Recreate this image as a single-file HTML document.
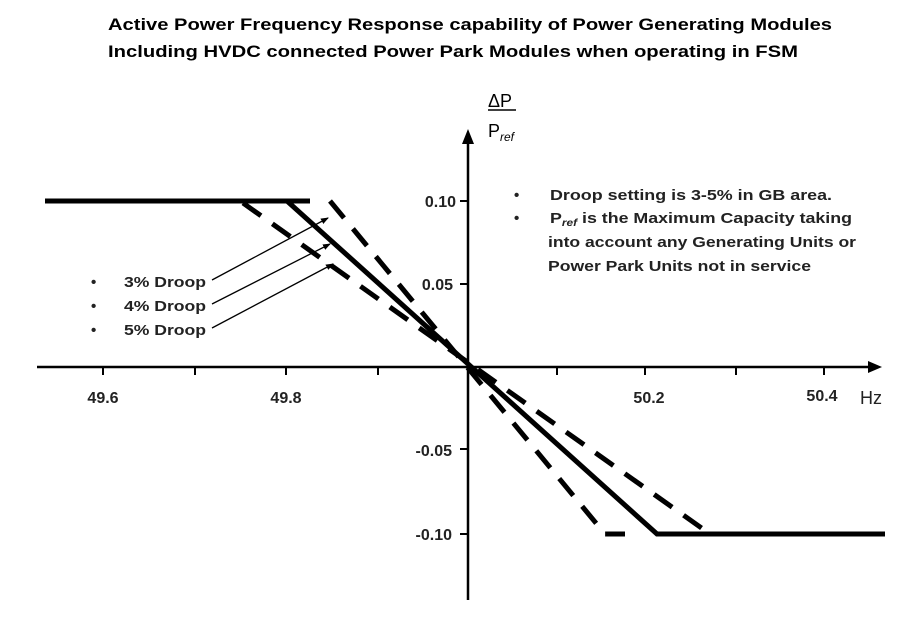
<!DOCTYPE html>
<html><head><meta charset="utf-8"><style>
html,body{margin:0;padding:0;background:#fff;}
svg{display:block;font-family:"Liberation Sans",sans-serif;}
</style></head><body>
<svg width="913" height="623" viewBox="0 0 913 623" xmlns="http://www.w3.org/2000/svg">
<defs><marker id="ah" markerWidth="8" markerHeight="8" refX="7" refY="4" orient="auto" markerUnits="userSpaceOnUse"><path d="M0,1 L8,4 L0,7 z" fill="#000"/></marker></defs>
<g font-weight="bold" font-size="17" fill="#000">
<text x="108" y="30" textLength="724" lengthAdjust="spacingAndGlyphs">Active Power Frequency Response capability of Power Generating Modules</text>
<text x="108" y="57" textLength="690" lengthAdjust="spacingAndGlyphs">Including HVDC connected Power Park Modules when operating in FSM</text>
</g>
<line x1="37" y1="367" x2="870" y2="367" stroke="#000" stroke-width="2.5"/>
<path d="M868,361 L882,367 L868,373 z" fill="#000"/>
<line x1="468" y1="600" x2="468" y2="140" stroke="#000" stroke-width="2.5"/>
<path d="M462,144 L468,129 L474,144 z" fill="#000"/>
<g stroke="#000" stroke-width="2">
<line x1="103" y1="367" x2="103" y2="375"/><line x1="195" y1="367" x2="195" y2="375"/>
<line x1="286" y1="367" x2="286" y2="375"/><line x1="378" y1="367" x2="378" y2="375"/>
<line x1="557" y1="367" x2="557" y2="375"/><line x1="645" y1="367" x2="645" y2="375"/>
<line x1="736" y1="367" x2="736" y2="375"/><line x1="824" y1="367" x2="824" y2="375"/>
<line x1="460" y1="201" x2="468" y2="201"/><line x1="460" y1="284" x2="468" y2="284"/>
<line x1="460" y1="449" x2="468" y2="449"/><line x1="460" y1="534" x2="468" y2="534"/>
</g>
<g font-weight="bold" font-size="16" fill="#222">
<text x="103" y="403" text-anchor="middle">49.6</text>
<text x="286" y="403" text-anchor="middle">49.8</text>
<text x="649" y="403" text-anchor="middle">50.2</text>
<text x="822" y="401" text-anchor="middle">50.4</text>
<text x="456" y="207" text-anchor="end">0.10</text>
<text x="453" y="290" text-anchor="end">0.05</text>
<text x="452" y="456" text-anchor="end">-0.05</text>
<text x="452" y="540" text-anchor="end">-0.10</text>
</g>
<text x="860" y="404" font-size="18" fill="#222">Hz</text>
<text x="488" y="107" font-size="18" fill="#000">ΔP</text>
<line x1="488" y1="110" x2="516" y2="110" stroke="#000" stroke-width="1.5"/>
<text x="488" y="137" font-size="18" fill="#000">P<tspan font-size="12" font-style="italic" dy="4">ref</tspan></text>
<g stroke="#000" stroke-width="5" fill="none">
<polyline points="45,201 310,201"/>
<polyline points="287,201 657,534 885,534"/>
<polyline points="330,201 605,534 625,534" stroke-dasharray="22,14"/>
<polyline points="243,203 710,534" stroke-dasharray="22,14"/>
</g>
<g stroke="#000" stroke-width="1.3" marker-end="url(#ah)">
<line x1="212" y1="280" x2="328" y2="218"/>
<line x1="212" y1="304" x2="330" y2="244"/>
<line x1="212" y1="328" x2="333" y2="264"/>
</g>
<g font-weight="bold" font-size="15" fill="#222">
<text x="91" y="287">•</text><text x="124" y="287" textLength="82" lengthAdjust="spacingAndGlyphs">3% Droop</text>
<text x="91" y="311">•</text><text x="124" y="311" textLength="82" lengthAdjust="spacingAndGlyphs">4% Droop</text>
<text x="91" y="335">•</text><text x="124" y="335" textLength="82" lengthAdjust="spacingAndGlyphs">5% Droop</text>
<text x="514" y="200">•</text><text x="550" y="200" textLength="282" lengthAdjust="spacingAndGlyphs">Droop setting  is 3-5% in GB area.</text>
<text x="514" y="223">•</text><text x="550" y="223" textLength="302" lengthAdjust="spacingAndGlyphs">P<tspan font-size="10" font-style="italic" dy="3">ref</tspan><tspan dy="-3"> is the Maximum Capacity taking</tspan></text>
<text x="548" y="247" textLength="308" lengthAdjust="spacingAndGlyphs">into account  any Generating Units or</text>
<text x="548" y="271" textLength="263" lengthAdjust="spacingAndGlyphs">Power Park Units not in service</text>
</g>
</svg>
</body></html>
